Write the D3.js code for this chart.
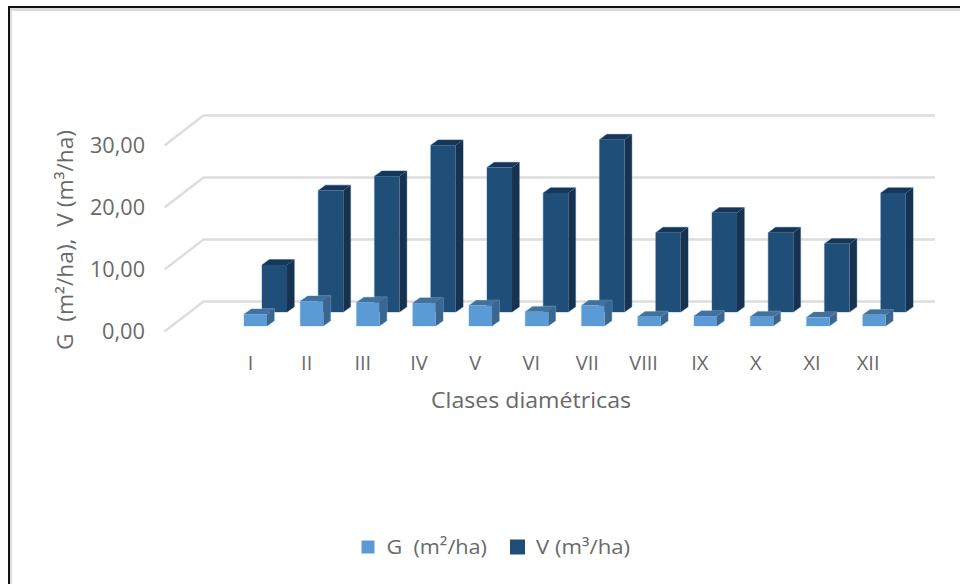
<!DOCTYPE html>
<html>
<head>
<meta charset="utf-8">
<style>
  html, body { margin: 0; padding: 0; background: #fff; }
  svg { display: block; }
  text { font-family: "Open Sans", sans-serif; fill: #696969; white-space: pre; }
</style>
<script src="https://cdnjs.cloudflare.com/ajax/libs/d3/7.8.5/d3.min.js"></script>
</head>
<body>
<svg id="chart" width="960" height="584"></svg>
<script>
// Basal area and volume per hectare by diameter class
const categories = ["I","II","III","IV","V","VI","VII","VIII","IX","X","XI","XII"];
const basalArea = [1.9,4.0,3.8,3.7,3.3,2.3,3.3,1.5,1.6,1.5,1.4,1.8];
const volume = [7.6,19.6,21.9,26.9,23.3,19.2,27.8,12.8,16.0,12.8,11.0,19.2];
const yTicks = [0,10,20,30];
const seriesNames = ["G  (m²/ha)", "V (m³/ha)"];

const svg = d3.select("#chart");

// Frame along the top and left edges, with its soft inner shadow
svg.append("rect").attr("x", 9).attr("y", 8).attr("width", 951).attr("height", 3).attr("fill", "#dcdcdc");
svg.append("rect").attr("x", 9).attr("y", 8).attr("width", 3).attr("height", 576).attr("fill", "#dcdcdc");
svg.append("rect").attr("x", 8).attr("y", 6).attr("width", 952).attr("height", 2).attr("fill", "#111");
svg.append("rect").attr("x", 8).attr("y", 6).attr("width", 2).attr("height", 578).attr("fill", "#111");

// Back wall scales; the floor and the front edge are fixed shifts from the wall
const y = d3.scaleLinear().domain([0, 30]).range([301.5, 115.5]);
const x = d3.scaleBand().domain(categories).range([223.4, 223.4 + 12 * 56.25]);
const unit = y(0) - y(1);
const wall = { left: 203.5, right: 935, dx: -39, dy: 30 };

// Gridlines run along the back wall and fold forward at its left end
const gridPath = d3.line();
svg.append("g").selectAll("path").data(yTicks).join("path")
  .attr("d", d => gridPath([
    [wall.left + wall.dx, y(d) + wall.dy],
    [wall.left, y(d)],
    [wall.right, y(d)]
  ]))
  .attr("fill", "none")
  .attr("stroke", "#dddddd")
  .attr("stroke-width", 2.4);

// Extruded column: front face, top face and right-hand side face
const depth = { dx: 7.3, dy: -5.3 };
function drawColumns(values, opts) {
  const g = svg.append("g");
  const cols = g.selectAll("g").data(values).join("g");
  const left = (d, i) => x(categories[i]) + x.bandwidth() / 2 + opts.offset;
  const top = d => opts.base - d * unit;
  // Faint outer edge around the whole column
  cols.append("path")
    .attr("fill", "none")
    .attr("stroke", opts.edge)
    .attr("stroke-width", 1.2)
    .attr("stroke-opacity", 0.55)
    .attr("stroke-linejoin", "round")
    .attr("d", (d, i) => {
      const l = left(d, i), r = l + opts.width;
      return d3.line()([[l, opts.base], [l, top(d)], [l + depth.dx, top(d) + depth.dy],
        [r + depth.dx, top(d) + depth.dy], [r + depth.dx, opts.base + depth.dy], [r, opts.base]]) + "Z";
    });
  cols.append("path")
    .attr("fill", opts.side)
    .attr("d", (d, i) => {
      const l = left(d, i) + opts.width;
      return d3.line()([[l, top(d)], [l + depth.dx, top(d) + depth.dy], [l + depth.dx, opts.base + depth.dy], [l, opts.base]]) + "Z";
    });
  cols.append("path")
    .attr("fill", opts.top)
    .attr("d", (d, i) => {
      const l = left(d, i);
      return d3.line()([[l, top(d)], [l + depth.dx, top(d) + depth.dy], [l + opts.width + depth.dx, top(d) + depth.dy], [l + opts.width, top(d)]]) + "Z";
    });
  cols.append("rect")
    .attr("fill", opts.front)
    .attr("x", left)
    .attr("y", top)
    .attr("width", opts.width)
    .attr("height", d => d * unit);
}

drawColumns(volume, { base: 312, offset: 10.5, width: 25, front: "#1f4e79", top: "#17375a", side: "#17324f", edge: "#5f93c0" });
drawColumns(basalArea, { base: 326, offset: -7.5, width: 23, front: "#5b9bd5", top: "#41719c", side: "#3a6690", edge: "#9cc3e6" });

// Value axis labels, with a decimal comma, sit on the front edge of the gridlines
const fmt = d3.formatLocale({ decimal: ",", thousands: ".", grouping: [3], currency: ["", ""] }).format(".2f");
svg.append("g").selectAll("text").data(yTicks).join("text")
  .attr("x", 145)
  .attr("y", d => y(d) + wall.dy + 7)
  .attr("text-anchor", "end")
  .attr("font-size", 21)
  .attr("textLength", d => d === 0 ? 43 : 55)
  .attr("lengthAdjust", "spacingAndGlyphs")
  .text(d => fmt(d));

// Category labels
svg.append("g").selectAll("text").data(categories).join("text")
  .attr("x", (d, i) => x(d) + x.bandwidth() / 2 - 1 - i * 0.1)
  .attr("y", 369.5)
  .attr("text-anchor", "middle")
  .attr("font-size", 20)
  .text(d => d);

// Axis titles
svg.append("text")
  .attr("x", 431).attr("y", 408)
  .attr("font-size", 22.5)
  .attr("textLength", 200)
  .attr("lengthAdjust", "spacingAndGlyphs")
  .text("Clases diamétricas");
svg.append("text")
  .attr("transform", "translate(73,350) rotate(-90)")
  .attr("font-size", 22)
  .attr("textLength", 220)
  .attr("lengthAdjust", "spacingAndGlyphs")
  .text(seriesNames[0] + ",  " + seriesNames[1]);

// Legend
const legendLayout = [
  { swatch: 361.5, size: 13, label: 386.5, length: 100.5 },
  { swatch: 510, size: 15, label: 536, length: 94 }
];
const legendColors = ["#5b9bd5", "#1f4e79"];
const legend = svg.append("g").selectAll("g").data(seriesNames).join("g");
legend.append("rect")
  .attr("x", (d, i) => legendLayout[i].swatch)
  .attr("y", (d, i) => 547 - legendLayout[i].size / 2)
  .attr("width", (d, i) => legendLayout[i].size)
  .attr("height", (d, i) => legendLayout[i].size)
  .attr("fill", (d, i) => legendColors[i]);
legend.append("text")
  .attr("x", (d, i) => legendLayout[i].label)
  .attr("y", 553.5)
  .attr("font-size", 20)
  .attr("textLength", (d, i) => legendLayout[i].length)
  .attr("lengthAdjust", "spacingAndGlyphs")
  .text(d => d);
</script>
</body>
</html>
